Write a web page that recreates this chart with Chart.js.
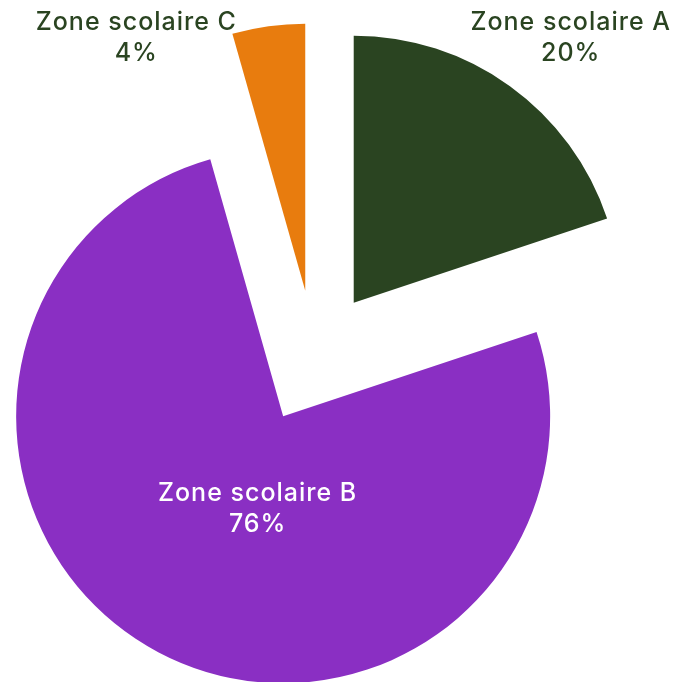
<!DOCTYPE html>
<html>
<head>
<meta charset="utf-8">
<script src="https://cdn.jsdelivr.net/npm/chart.js@4.4.1/dist/chart.umd.min.js"></script>
<style>
  html, body { margin: 0; padding: 0; background: #fff; }
  #wrap { width: 675px; height: 682px; }
</style>
</head>
<body>
<div id="wrap"><canvas id="zones"></canvas></div>
<script>
const zones = ['Zone scolaire A', 'Zone scolaire B', 'Zone scolaire C'];
const shares = [19.9, 75.7, 4.4];
const zoneColors = ['#2a4421', '#8a2fc3', '#e87c0e'];
const labelColors = ['#2a4421', '#ffffff', '#2a4421'];
const labelInside = [false, true, false];

const RADIUS = 267;
const EXPLODE = 67;
const FONT = '500 25px Inter';
const LINE_H = 31;
const INSIDE_TURN = -12.5 * Math.PI / 180;

// chart.js makes wide/narrow arcs bigger when offset is set, put them all back to one radius
const evenSlices = {
  id: 'evenSlices',
  afterDatasetUpdate(chart, args) {
    args.meta.data.forEach(arc => {
      const ro = EXPLODE * (1 - Math.sin(Math.min(Math.PI, arc.circumference)));
      arc.outerRadius = RADIUS - ro;
      const trim = ro / (2 * Math.PI * RADIUS);
      arc.startAngle -= trim;
      arc.endAngle += trim;
    });
  }
};

function inSlice(px, py, cx, cy, arc) {
  const dx = px - cx, dy = py - cy;
  if (Math.hypot(dx, dy) > RADIUS) return false;
  let a = Math.atan2(dy, dx);
  while (a < arc.startAngle) a += 2 * Math.PI;
  while (a >= arc.startAngle + 2 * Math.PI) a -= 2 * Math.PI;
  return a <= arc.endAngle;
}

const sliceLabels = {
  id: 'sliceLabels',
  afterDatasetsDraw(chart) {
    const ctx = chart.ctx;
    const arcs = chart.getDatasetMeta(0).data;
    ctx.save();
    ctx.font = FONT;
    ctx.letterSpacing = '1px';
    ctx.textAlign = 'center';
    ctx.textBaseline = 'middle';
    arcs.forEach((arc, i) => {
      const mid = (arc.startAngle + arc.endAngle) / 2;
      const cx = arc.x + Math.cos(mid) * EXPLODE;
      const cy = arc.y + Math.sin(mid) * EXPLODE;
      const lines = [zones[i], Math.round(shares[i]) + '%'];
      const widths = lines.map(t => ctx.measureText(t).width);
      let x, y;
      if (labelInside[i]) {
        x = cx + Math.cos(mid + INSIDE_TURN) * RADIUS * 0.36;
        y = cy + Math.sin(mid + INSIDE_TURN) * RADIUS * 0.36;
      } else {
        const w = Math.max(...widths);
        x = cx + Math.cos(mid) * (RADIUS + 110);
        y = cy + Math.sin(mid) * (RADIUS + 110);
        x = Math.min(Math.max(x, w / 2 + 4), chart.width - w / 2 - 4);
        y = Math.min(Math.max(y, LINE_H + 7), chart.height - LINE_H - 7);
        // slide sideways off the slice if the label sits on it
        const dir = Math.cos(mid) < 0 ? -1 : 1;
        const hits = () => lines.some((t, j) => {
          const ly = y + (j - 0.5) * LINE_H;
          for (let k = 0; k <= 10; k++) {
            const px = x - widths[j] / 2 + widths[j] * k / 10;
            if (inSlice(px, ly - 9, cx, cy, arc) || inSlice(px, ly + 9, cx, cy, arc)) return true;
          }
          return false;
        });
        let n = 0;
        if (hits()) {
          while (hits() && n++ < 400) x += dir;
          x += dir * 4;
        }
      }
      ctx.fillStyle = labelColors[i];
      lines.forEach((t, j) => ctx.fillText(t, x, y + (j - 0.5) * LINE_H));
    });
    ctx.restore();
  }
};

new Chart(document.getElementById('zones'), {
  type: 'pie',
  data: {
    labels: zones,
    datasets: [{
      data: shares,
      backgroundColor: zoneColors,
      borderWidth: 0,
      offset: EXPLODE * 4
    }]
  },
  options: {
    responsive: true,
    maintainAspectRatio: false,
    animation: false,
    events: [],
    radius: RADIUS,
    layout: { padding: { left: 0, right: 46, top: 32, bottom: 0 } },
    plugins: {
      legend: { display: false },
      tooltip: { enabled: false }
    }
  },
  plugins: [evenSlices, sliceLabels]
});
</script>
</body>
</html>
